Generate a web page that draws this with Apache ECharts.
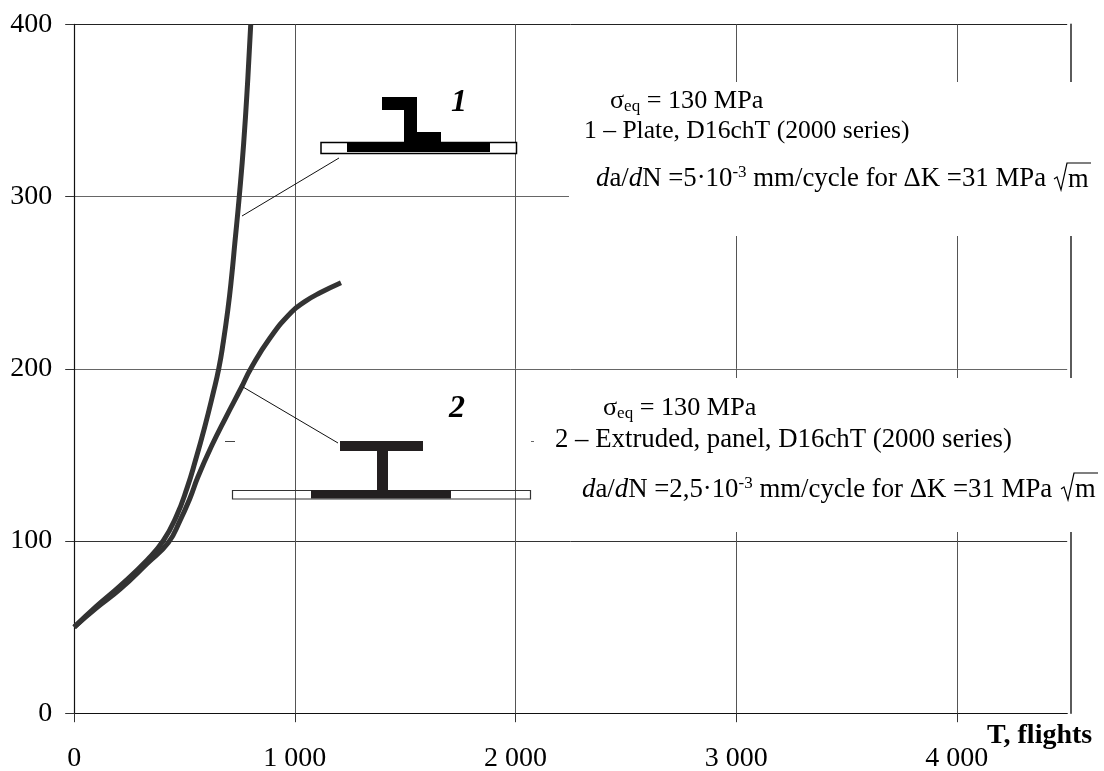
<!DOCTYPE html>
<html><head><meta charset="utf-8">
<style>html,body{margin:0;padding:0;background:#fff}#c{width:1104px;height:771px}</style>
<script src="https://cdn.jsdelivr.net/npm/echarts@6/dist/echarts.min.js"></script>
</head><body><div id="c"></div>
<script>
var xTicks = [0, 1000, 2000, 3000, 4000];
var yTicks = [0, 100, 200, 300, 400];
var curve1T = [0, 100, 208, 331, 403, 462, 512, 550, 591, 630, 655, 675, 696, 713, 728, 748, 768, 787, 800];
var curve1V = [50, 62, 74, 89, 100, 114, 131, 147, 166, 186, 200, 215, 234, 253, 273, 300, 331, 369, 400];
var curve2T = [0, 100, 208, 331, 426, 480, 525, 560, 622, 688, 757, 800, 888, 985, 1045, 1112, 1209];
var curve2V = [50, 61, 72, 87, 99, 112, 125, 137, 155, 172, 189, 200, 218, 233, 239, 244, 250];
var serif = '"Liberation Serif","Times New Roman",serif';
function zip(a, b) { return a.map(function (v, i) { return [v, b[i]]; }); }
function fmt(v) { return v >= 1000 ? Math.floor(v / 1000) + ' ' + String(v % 1000).padStart(3, '0') : String(v); }
function richFor(size) {
  return {
    n: { fontFamily: serif, fontSize: size, fill: '#000' },
    i: { fontFamily: serif, fontSize: size, fontStyle: 'italic', fill: '#000' },
    sub: { fontFamily: serif, fontSize: 17, fill: '#000', padding: [11, 0, 0, 0] },
    sup: { fontFamily: serif, fontSize: 17, fill: '#000', padding: [0, 0, 12, 0] }
  };
}
function txt(x, y, t, size) {
  return { type: 'text', z: 20, x: x, y: y, style: { text: t, rich: richFor(size), verticalAlign: 'middle', align: 'left', fontFamily: serif, fontSize: size, fill: '#000' } };
}
function poly(points, color) {
  return { type: 'polygon', z: 15, shape: { points: points }, style: { fill: color, stroke: null } };
}
function rect(x, y, w, h, fill, stroke, lw) {
  return { type: 'rect', z: 14, shape: { x: x, y: y, width: w, height: h }, style: { fill: fill, stroke: stroke || null, lineWidth: lw || 0 } };
}
function line(x1, y1, x2, y2, color, lw) {
  return { type: 'line', z: 15, shape: { x1: x1, y1: y1, x2: x2, y2: y2 }, style: { stroke: color || '#111', lineWidth: lw || 1 } };
}
function root(x, y) {
  return { type: 'polyline', z: 20, shape: { points: [[x, y - 1], [x + 3, y - 3], [x + 7, y + 10], [x + 13, y - 17], [x + 37, y - 17]] }, style: { stroke: '#000', lineWidth: 1.2, fill: null } };
}
var chart = echarts.init(document.getElementById('c'), null, { renderer: 'canvas' });
chart.setOption({
  animation: false,
  backgroundColor: '#fff',
  grid: { left: 74.2, top: 24.4, width: 993, height: 688.8, containLabel: false, outerBoundsMode: 'none' },
  xAxis: {
    type: 'value', min: 0, max: 4500, interval: 1000,
    name: 'T, flights',
    nameLocation: 'end', nameGap: 25, nameMoveOverlap: false,
    nameTextStyle: { fontFamily: serif, fontSize: 28, fontWeight: 'bold', color: '#000', align: 'right', verticalAlign: 'top', padding: [9, 0, 0, 0] },
    axisLine: { show: true, onZero: false, lineStyle: { color: '#111', width: 1.2 } },
    axisTick: { show: true, length: 9, lineStyle: { color: '#333', width: 1 } },
    axisLabel: { fontFamily: serif, fontSize: 28, color: '#000', margin: 31, formatter: fmt, showMaxLabel: false },
    splitLine: { show: true, showMaxLine: false, lineStyle: { color: '#555', width: 1 } }
  },
  yAxis: [{
    type: 'value', min: 0, max: 400, interval: 100,
    axisLine: { show: true, onZero: false, lineStyle: { color: '#111', width: 1.2 } },
    axisTick: { show: true, length: 9, lineStyle: { color: '#333', width: 1 } },
    axisLabel: { fontFamily: serif, fontSize: 28, color: '#000', margin: 22, formatter: fmt, padding: [0, 0, 2, 0] },
    splitLine: { show: true, lineStyle: { color: ['#111', '#333', '#666', '#666', '#222'], width: 1 } }
  }, {
    type: 'value', min: 0, max: 400, interval: 100, position: 'right', offset: 4,
    axisLine: { show: true, onZero: false, lineStyle: { color: '#333', width: 1.6 } },
    axisTick: { show: false }, axisLabel: { show: false }, splitLine: { show: false }
  }],
  series: [
    { name: '1', type: 'line', data: zip(curve1T, curve1V), smooth: 0.5, showSymbol: false, clip: true, lineStyle: { color: '#333', width: 5, cap: 'butt' }, z: 5 },
    { name: '2', type: 'line', data: zip(curve2T, curve2V), smooth: 0.5, showSymbol: false, clip: true, lineStyle: { color: '#333', width: 5, cap: 'butt' }, z: 5 }
  ],
  graphic: { elements: [
    rect(569, 82, 535, 154, '#fff'),
    rect(535, 378, 569, 154, '#fff'),
    rect(321, 142.5, 195.5, 11, '#fff', '#000', 1.5),
    poly([[347, 142], [404, 142], [404, 110], [382, 110], [382, 97], [417, 97], [417, 132], [441, 132], [441, 142], [490, 142], [490, 152], [347, 152]], '#000'),
    line(339, 158, 242, 216, '#111', 1),
    { type: 'text', z: 20, x: 459, y: 103, style: { text: '1', align: 'center', verticalAlign: 'middle', fontFamily: serif, fontSize: 32, fontStyle: 'italic', fontWeight: 'bold', fill: '#000' } },
    rect(232.5, 490.5, 298, 8.5, 'transparent', '#333', 1.2),
    poly([[311, 490], [377, 490], [377, 451], [340, 451], [340, 441], [423, 441], [423, 451], [388, 451], [388, 490], [451, 490], [451, 498.5], [311, 498.5]], '#231f20'),
    line(243, 387, 338, 443, '#111', 1),
    line(225, 441.5, 235, 441.5, '#444', 1),
    line(531, 441.5, 534, 441.5, '#666', 1),
    { type: 'text', z: 20, x: 457, y: 409, style: { text: '2', align: 'center', verticalAlign: 'middle', fontFamily: serif, fontSize: 32, fontStyle: 'italic', fontWeight: 'bold', fill: '#000' } },
    txt(610, 101, '{n|σ}{sub|eq}{n| = 130 MPa}', 26.2),
    txt(584, 131, '{n|1 – Plate, D16chT (2000 series)}', 25.6),
    txt(596, 179, '{i|d}{n|a/}{i|d}{n|N =5·10}{sup|-3}{n| mm/cycle for ΔK =31 MPa}', 26.8),
    root(1054, 180),
    txt(1068, 180, '{n|m}', 26.5),
    txt(603, 408, '{n|σ}{sub|eq}{n| = 130 MPa}', 26.2),
    txt(555, 440, '{n|2 – Extruded, panel, D16chT (2000 series)}', 26.8),
    txt(582, 490, '{i|d}{n|a/}{i|d}{n|N =2,5·10}{sup|-3}{n| mm/cycle for ΔK =31 MPa}', 26.8),
    root(1061, 490),
    txt(1075, 490, '{n|m}', 26.5)
  ] }
});
</script></body></html>
